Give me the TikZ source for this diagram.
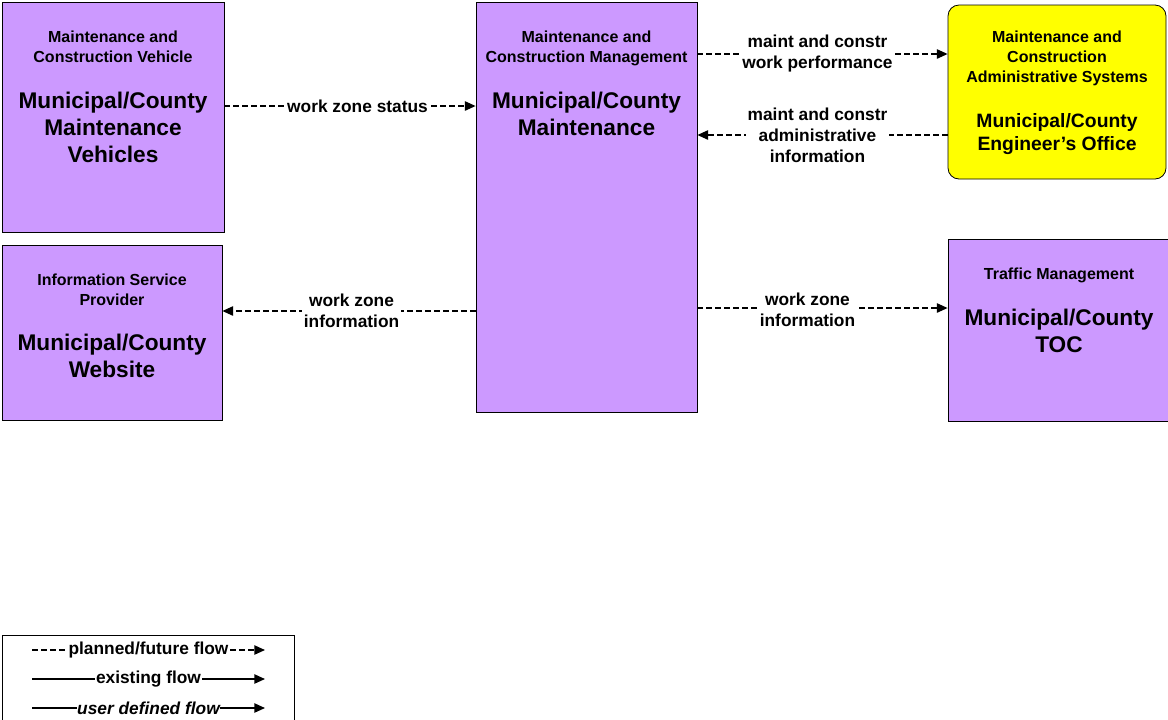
\documentclass[tikz,border=0pt]{standalone}
\usepackage{fontspec}
\setmainfont{Liberation Sans}
\usepackage{tikz}
\usetikzlibrary{positioning,arrows.meta}

\definecolor{purp}{HTML}{CC99FF}
\definecolor{engy}{HTML}{FFFF00}
\newdimen\pxu \pxu=0.75pt

\tikzset{
  sysbox/.style={draw=black,fill=purp,line width=0.6pt,inner sep=0pt},
  engbox/.style={sysbox,fill=engy,rounded corners=11\pxu},
  titletext/.style={inner sep=0pt,align=center,font=\fontsize{12}{15}\selectfont\bfseries},
  nametext/.style={inner sep=0pt,align=center,font=\fontsize{17}{20.25}\selectfont\bfseries},
  flowtext/.style={fill=white,inner sep=1.5pt,align=center,font=\fontsize{13}{15.75}\selectfont\bfseries},
  planned/.style={dash pattern=on 4.5pt off 2.25pt,line width=1pt,-{Triangle[length=8pt,width=7pt]}},
  existing/.style={line width=1pt,-{Triangle[length=8pt,width=7pt]}}
}

\begin{document}
\begin{tikzpicture}[x=0.75pt,y=-0.75pt]

    \useasboundingbox (0,0) rectangle (1168,719);

    % the five systems
    \node[sysbox,minimum width=222\pxu,minimum height=230\pxu] (mcv) at (113,117) {};
    \node[sysbox,minimum width=220\pxu,minimum height=175\pxu] (isp) at (112,332.5) {};
    \node[sysbox,minimum width=221\pxu,minimum height=410\pxu] (mcm) at (586.5,207) {};
    \node[engbox,minimum width=218\pxu,minimum height=174\pxu] (mcas) at (1057,92) {};
    \node[sysbox,minimum width=222\pxu,minimum height=182\pxu] (tm) at (1059,330) {};

    % their texts
    \node[titletext,below=29\pxu of mcv.north] (mcvt) {Maintenance and\\Construction Vehicle};
    \node[nametext,below=90\pxu of mcv.north] (mcvn) {Municipal/County\\Maintenance\\Vehicles};

    \node[titletext,below=29\pxu of isp.north] (ispt) {Information Service\\Provider};
    \node[nametext,below=89\pxu of isp.north] (ispn) {Municipal/County\\Website};

    \node[titletext,below=29\pxu of mcm.north] (mcmt) {Maintenance and\\Construction Management};
    \node[nametext,below=90\pxu of mcm.north] (mcmn) {Municipal/County\\Maintenance};

    \node[titletext,below=26\pxu of mcas.north] (mcast) {Maintenance and\\Construction\\Administrative Systems};
    \node[nametext,font=\fontsize{14.5}{17.25}\selectfont\bfseries,below=109\pxu of mcas.north] (mcasn) {Municipal/County\\Engineer's Office};

    \node[titletext,below=29\pxu of tm.north] (tmt) {Traffic Management};
    \node[nametext,below=70\pxu of tm.north] (tmn) {Municipal/County\\TOC};

    % the flows
    \draw[planned] (mcv.east |- 0,106) -- node[flowtext,pos=0.53] {work zone status} (mcm.west |- 0,106);
    \draw[planned] (mcm.east |- 0,54) -- node[flowtext,pos=0.48] {maint and constr\\work performance} (mcas.west |- 0,54);
    \draw[planned] (mcas.west |- 0,135) -- node[flowtext,pos=0.52] {maint and constr\\administrative\\information} (mcm.east |- 0,135);
    \draw[planned] (mcm.west |- 0,311) -- node[flowtext,pos=0.49] {work zone\\information} (isp.east |- 0,311);
    \draw[planned] (mcm.east |- 0,308) -- node[flowtext,pos=0.44,yshift=-2\pxu] {work zone\\information} (tm.west |- 0,308);

    % legend
    \draw[line width=0.6pt] (2,635) rectangle (294,725);
    \coordinate (pl1) at (32,650); \coordinate (pl2) at (265,650);
    \coordinate (ex1) at (32,679); \coordinate (ex2) at (265,679);
    \coordinate (ud1) at (32,708); \coordinate (ud2) at (265,708);
    \draw[planned] (pl1) -- node[flowtext,inner sep=0.5pt] {planned/future flow} (pl2);
    \draw[existing] (ex1) -- node[flowtext,inner sep=0.5pt] {existing flow} (ex2);
    \draw[existing] (ud1) -- node[flowtext,inner sep=0.5pt] {\itshape user defined flow} (ud2);

\end{tikzpicture}
\end{document}
